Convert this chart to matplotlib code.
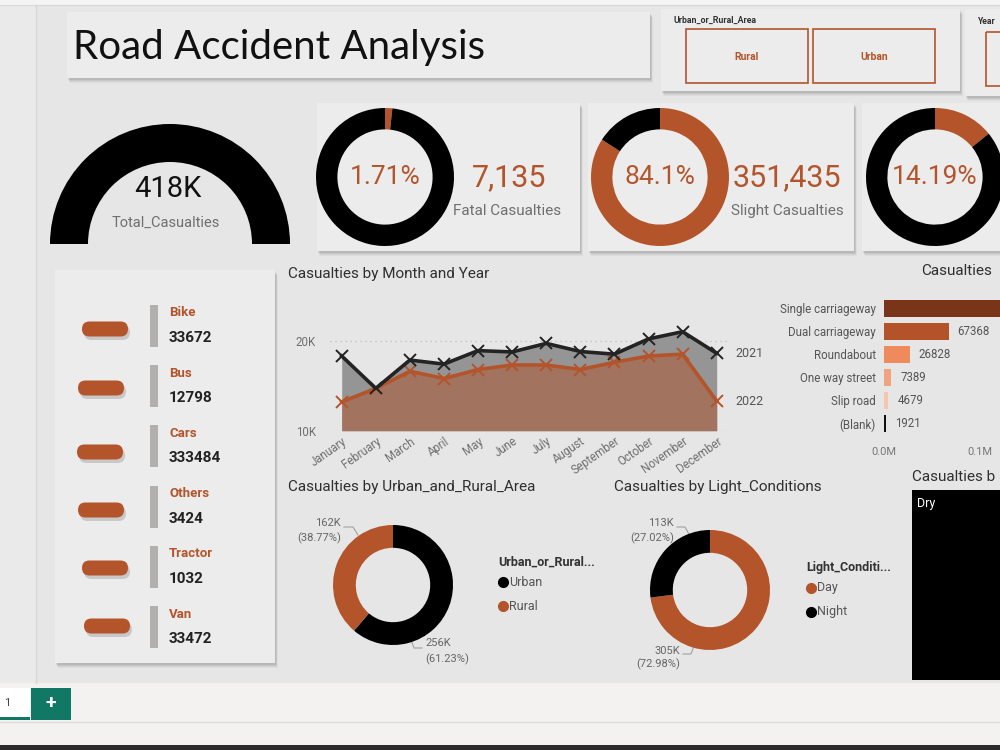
import matplotlib
matplotlib.use("Agg")
import matplotlib.pyplot as plt
from matplotlib.patches import Rectangle, FancyBboxPatch, Wedge
import numpy as np

plt.rcParams['font.family'] = ['Roboto', 'DejaVu Sans']

# ---------------- data ----------------
months = ['January', 'February', 'March', 'April', 'May', 'June', 'July',
          'August', 'September', 'October', 'November', 'December']
casualties_2021 = [18300, 14700, 17850, 17400, 18900, 18750, 19700, 18800, 18500, 20200, 21000, 18600]
casualties_2022 = [13200, 14700, 16600, 15800, 16800, 17300, 17300, 16800, 17600, 18300, 18500, 13300]
year_labels = ['2021', '2022']

total_casualties = 417882
gauge_max = 417882
fatal_casualties = 7135
slight_casualties = 351435
serious_casualties = 59312

vehicle_types = ['Bike', 'Bus', 'Cars', 'Others', 'Tractor', 'Van']
vehicle_casualties = [33672, 12798, 333484, 3424, 1032, 33472]

road_types = ['Single carriageway', 'Dual carriageway', 'Roundabout',
              'One way street', 'Slip road', '(Blank)']
road_casualties = [309697, 67368, 26828, 7389, 4679, 1921]
road_ticks = [0, 100000]

area_labels = ['Urban', 'Rural']
area_casualties = [255869, 162013]
light_labels = ['Day', 'Night']
light_casualties = [304970, 112912]

slicer_area_items = ['Rural', 'Urban']
surface_top = 'Dry'

# visible (cut by the page edge) visual titles
road_title = 'Casualties'
surface_title = 'Casualties b'

# ---------------- style ----------------
W, H = 1000, 750
ORANGE = '#b3542b'
BG = '#e6e6e6'
CARD = '#ececec'
GRAY_TXT = '#6f6f6f'
DARK_TXT = '#2f2f2f'

fig = plt.figure(figsize=(10, 7.5), dpi=100)
fig.patch.set_facecolor(BG)


def px_axes(x, y, w, h):
    ax = fig.add_axes([x / W, 1 - (y + h) / H, w / W, h / H])
    ax.patch.set_alpha(0)
    return ax


bg = fig.add_axes([0, 0, 1, 1])
bg.set_xlim(0, W)
bg.set_ylim(H, 0)
bg.axis('off')


def card(x, y, w, h, fc=CARD, shadow=True):
    if shadow:
        for d, a in [(5, 0.035), (4, 0.045), (3, 0.06), (2, 0.07)]:
            bg.add_patch(Rectangle((x + d * 0.6, y + d), w, h, fc='black', alpha=a, lw=0))
    bg.add_patch(Rectangle((x, y), w, h, fc=fc, lw=0))


def fmt_pct(v):
    s = f"{v * 100:.2f}".rstrip('0').rstrip('.')
    return s + '%'


# page frame
bg.add_patch(Rectangle((0, 0), 36, 683, fc='#eaeaea', lw=0))
bg.plot([36, 36], [5, 683], color='#d6d6d6', lw=1)
bg.add_patch(Rectangle((0, 0), W, 5, fc='#f4f4f4', lw=0))
bg.plot([0, W], [5, 5], color='#d8d8d8', lw=0.8)

# ---------------- title + slicers ----------------
card(67, 12, 583, 66)
bg.text(73, 47, 'Road Accident Analysis', fontsize=29, color='#111111',
        family=['Lato', 'DejaVu Sans'], va='center', ha='left')

card(661, 9, 299, 82, shadow=True)
bg.text(673, 20, 'Urban_or_Rural_Area', fontsize=6.3, fontweight='bold', color='#333333', va='center')
for i, item in enumerate(slicer_area_items):
    bx0 = 686 + i * 127
    bg.add_patch(Rectangle((bx0, 29), 122, 54, fc='none', ec=ORANGE, lw=1.2))
    bg.text(bx0 + 61, 57, item, fontsize=7.5, fontweight='bold', color=ORANGE, ha='center', va='center')

card(965, 9, 60, 87)
bg.text(977, 22, 'Year', fontsize=6.3, fontweight='bold', color='#333333', va='center')
bg.add_patch(Rectangle((986, 32), 40, 54, fc='none', ec=ORANGE, lw=1.2))

# ---------------- gauge ----------------
gx, gy, gR, gw = 170, 244, 120, 38
bg.add_patch(Wedge((gx, gy), gR, 180, 180 + 180 * total_casualties / gauge_max, width=gw, fc='black', lw=0))
bg.text(gx - 2, 189, f"{round(total_casualties / 1000)}K", fontsize=21, color='#111111', ha='center', va='center')
bg.text(gx - 4, 223, 'Total_Casualties', fontsize=10.5, color=GRAY_TXT, ha='center', va='center')

# ---------------- KPI cards ----------------
kpi_cards = [
    (317, 263, (385, 177), fatal_casualties, 'Fatal Casualties', (509, 178), (507, 211)),
    (588, 266, (660, 177), slight_casualties, 'Slight Casualties', (787, 178), (787, 211)),
    (862, 160, (935, 177), serious_casualties, None, None, None),
]
for (cx0, cw, (dcx, dcy), val, lab, vpos, lpos) in kpi_cards:
    card(cx0, 103, cw, 148)
for (cx0, cw, (dcx, dcy), val, lab, vpos, lpos) in kpi_cards:
    r = 69
    ax = px_axes(dcx - r, dcy - r, 2 * r, 2 * r)
    frac = val / total_casualties
    ax.pie([frac, 1 - frac], colors=[ORANGE, 'black'], startangle=90, counterclock=False,
           wedgeprops=dict(width=0.31, linewidth=0))
    ax.set_xlim(-1, 1)
    ax.set_ylim(-1, 1)
    ax.text(0, 0, fmt_pct(frac), ha='center', va='center', color=ORANGE, fontsize=19)
    if lab is not None:
        bg.text(vpos[0], vpos[1], f"{val:,}", fontsize=22, color=ORANGE, ha='center', va='center')
        bg.text(lpos[0], lpos[1], lab, fontsize=11, color=GRAY_TXT, ha='center', va='center')

# ---------------- vehicle card ----------------
card(55, 270, 220, 393)
pill_x = [82, 78, 77, 78, 82, 84]
pill_y = [329, 388, 452, 510, 568, 626]
for i, (vt, vv) in enumerate(zip(vehicle_types, vehicle_casualties)):
    ly = 313 + 60.2 * i
    bg.add_patch(FancyBboxPatch((pill_x[i] + 2, pill_y[i] - 7 + 3), 46, 15,
                                boxstyle='round,pad=0,rounding_size=7.5', fc='#000000', alpha=0.15, lw=0))
    bg.add_patch(FancyBboxPatch((pill_x[i], pill_y[i] - 7.5), 46, 15,
                                boxstyle='round,pad=0,rounding_size=7.5', fc=ORANGE, lw=0))
    bg.add_patch(Rectangle((150, ly - 8), 8, 42, fc='#b2b0ae', lw=0))
    bg.text(169, ly, vt, fontsize=9.5, fontweight='bold', color=ORANGE, va='center')
    bg.text(169, ly + 25, str(vv), fontsize=11, fontweight='bold', color='#222222', va='center')

# ---------------- line chart ----------------
bg.text(288, 274, 'Casualties by Month and Year', fontsize=11, color=DARK_TXT, va='center')
lx0, lx1 = 330, 730
step = 34.09
first = 341.7
ax = px_axes(lx0, 320, lx1 - lx0, 110.7)
x = np.arange(len(months))
ax.set_xlim((lx0 - first) / step, (lx1 - first) / step)
ax.set_ylim(10000, 10000 + (430.7 - 320) / 90 * 10000)
ax.fill_between(x, 10000, casualties_2021, color='#959595', lw=0, zorder=1)
ax.fill_between(x, 10000, casualties_2022, color='#a2735f', lw=0, zorder=2)
ax.plot(x, casualties_2021, color='#232323', lw=2.6, marker='x', ms=8, mew=1.4, clip_on=False, zorder=4)
ax.plot(x, casualties_2022, color=ORANGE, lw=2.6, marker='x', ms=8, mew=1.4, clip_on=False, zorder=3)
ax.set_yticks([10000, 20000])
ax.set_yticklabels(['10K', '20K'])
ax.yaxis.grid(True, linestyle=(0, (1, 3)), color='#bdbdbd', lw=0.9)
ax.set_axisbelow(True)
ax.set_xticks(x)
ax.set_xticklabels(months, rotation=35, ha='right', rotation_mode='anchor')
ax.tick_params(axis='x', length=0, pad=3, labelsize=8.3, labelcolor=GRAY_TXT)
ax.tick_params(axis='y', length=0, pad=10, labelsize=8.3, labelcolor=GRAY_TXT)
for s in ax.spines.values():
    s.set_visible(False)
for yl, ys in zip(year_labels, [casualties_2021, casualties_2022]):
    ax.text(11.55, ys[-1], yl, fontsize=9, color='#555555', va='center', ha='left')

# ---------------- road type bar chart ----------------
bg.text(921, 271, road_title, fontsize=11, color=DARK_TXT, va='center')
road_colors = ['#7a3419', '#b4532a', '#ef8a5c', '#f2a27f', '#f6c5ab', '#111111']
rb_x0, rb_w = 884, W - 884
rb = px_axes(rb_x0, 297, rb_w, 138)
yy = np.arange(len(road_types))
xmax = rb_w / 96 * 100000
rb.barh(yy, road_casualties, height=0.78, color=road_colors, lw=0)
rb.set_xlim(0, xmax)
rb.set_ylim(len(road_types) - 0.5, -0.5)
rb.set_yticks(yy)
rb.set_yticklabels(road_types)
rb.set_xticks(road_ticks)
rb.set_xticklabels([f"{v / 1e6:.1f}M" for v in road_ticks])
rb.tick_params(axis='y', length=0, pad=6, labelsize=8.3, labelcolor='#555555')
rb.tick_params(axis='x', length=0, pad=9, labelsize=8, labelcolor='#777777')
for s in rb.spines.values():
    s.set_visible(False)
for i, v in enumerate(road_casualties):
    if v < xmax * 0.7:
        rb.annotate(str(v), (v, i), xytext=(6.5, 0), textcoords='offset points',
                    fontsize=8.3, color='#555555', va='center', ha='left')

# ---------------- donuts ----------------
def donut(cx, cy, r, values, colors):
    a = px_axes(cx - r, cy - r, 2 * r, 2 * r)
    a.pie(values, colors=colors, startangle=90, counterclock=False,
          wedgeprops=dict(width=0.38, linewidth=0))
    a.set_xlim(-1, 1)
    a.set_ylim(-1, 1)
    return a


def legend_block(x0, y0, title, labels, colors):
    bg.text(x0, y0, title, fontsize=9, fontweight='bold', color='#333333', va='center')
    for k, (lb, c) in enumerate(zip(labels, colors)):
        yk = y0 + 20 + 24 * k
        bg.plot([x0 + 4.5], [yk], 'o', ms=7, color=c)
        bg.text(x0 + 11, yk, lb, fontsize=9, color='#555555', va='center')


def kfmt(v):
    return f"{round(v / 1000)}K"


# urban / rural
bg.text(288, 487, 'Casualties by Urban_and_Rural_Area', fontsize=11, color=DARK_TXT, va='center')
area_colors = ['black', ORANGE]
donut(393, 585, 60, area_casualties, area_colors)
tot_a = sum(area_casualties)
bg.text(341, 523, kfmt(area_casualties[1]), fontsize=8, color='#666666', ha='right', va='center')
bg.text(341, 538, f"({area_casualties[1] / tot_a * 100:.2f}%)", fontsize=8, color='#666666', ha='right', va='center')
bg.plot([344, 353, 358], [527, 527, 535], color='#a0a0a0', lw=0.8)
bg.text(425, 643, kfmt(area_casualties[0]), fontsize=8, color='#666666', ha='left', va='center')
bg.text(425, 659, f"({area_casualties[0] / tot_a * 100:.2f}%)", fontsize=8, color='#666666', ha='left', va='center')
bg.plot([411, 414, 422], [640, 648, 648], color='#a0a0a0', lw=0.8)
legend_block(498, 562, 'Urban_or_Rural...', area_labels, area_colors)

# light conditions
bg.text(614, 487, 'Casualties by Light_Conditions', fontsize=11, color=DARK_TXT, va='center')
light_colors = [ORANGE, 'black']
donut(710, 590, 60, light_casualties, light_colors)
tot_l = sum(light_casualties)
bg.text(674, 523, kfmt(light_casualties[1]), fontsize=8, color='#666666', ha='right', va='center')
bg.text(674, 538, f"({light_casualties[1] / tot_l * 100:.2f}%)", fontsize=8, color='#666666', ha='right', va='center')
bg.plot([677, 685, 690], [527, 527, 536], color='#a0a0a0', lw=0.8)
bg.text(680, 651, kfmt(light_casualties[0]), fontsize=8, color='#666666', ha='right', va='center')
bg.text(680, 664, f"({light_casualties[0] / tot_l * 100:.2f}%)", fontsize=8, color='#666666', ha='right', va='center')
bg.plot([683, 691, 694], [654, 654, 646], color='#a0a0a0', lw=0.8)
legend_block(806, 568, 'Light_Conditi...', light_labels, light_colors)

# surface treemap (cut by the page edge)
bg.text(912, 477, surface_title, fontsize=11, color=DARK_TXT, va='center')
bg.add_patch(Rectangle((912, 490), W - 912, 190, fc='black', lw=0))
bg.text(917, 504, surface_top, fontsize=9, color='white', va='center')

# ---------------- bottom tab bar ----------------
bg.add_patch(Rectangle((0, 683), W, 67, fc='#f3f2f1', lw=0))
bg.add_patch(Rectangle((0, 688), 30, 32, fc='white', lw=0))
bg.add_patch(Rectangle((0, 717), 30, 3, fc='#117865', lw=0))
bg.text(4, 703, '1', fontsize=8, color='#444444', va='center')
bg.add_patch(Rectangle((31, 688), 40, 32, fc='#117865', lw=0))
bg.text(51, 703, '+', fontsize=14, fontweight='bold', color='white', ha='center', va='center')
bg.plot([0, W], [722, 722], color='#dcdcdc', lw=1)
bg.add_patch(Rectangle((0, 745), W, 5, fc='#2b2b2b', lw=0))

fig.savefig('out.png', dpi=100, facecolor=fig.get_facecolor())
